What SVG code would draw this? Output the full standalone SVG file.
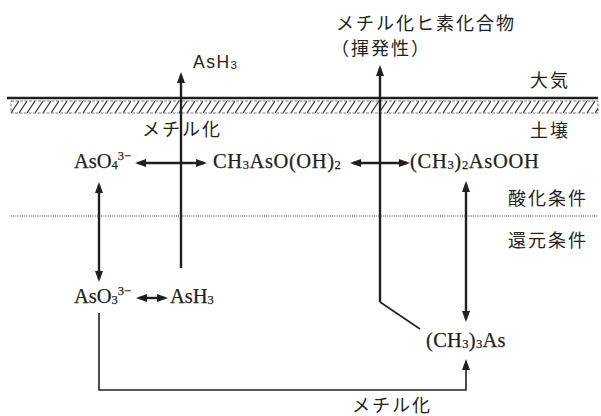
<svg xmlns="http://www.w3.org/2000/svg" width="601" height="416" viewBox="0 0 601 416">
<style>
.jp{font-family:"Noto Sans CJK JP","Noto Sans",sans-serif;font-size:18px;letter-spacing:2px;fill:#231f20}
.chem{font-family:"Liberation Serif","DejaVu Serif",serif;font-size:20.5px;fill:#231f20;stroke:#231f20;stroke-width:0.25}
.sub{font-size:12.5px}
.ln{stroke:#231f20;stroke-width:2.4;fill:none}
.thin{stroke:#231f20;stroke-width:1.6;fill:none}
</style>
<defs>
<marker id="ah" viewBox="-8 -4 11 8" refX="0" refY="0" markerWidth="11" markerHeight="8" markerUnits="userSpaceOnUse" orient="auto-start-reverse">
<path d="M-8,-4 L3,0 L-8,4 z" fill="#231f20"/>
</marker>
<pattern id="hatch" patternUnits="userSpaceOnUse" x="11" y="101" width="8" height="12">
<path d="M0,12 L8,0" stroke="#333" stroke-width="1.2"/>
</pattern>
</defs>
<g id="ground">
<rect x="11" y="101" width="587" height="12" fill="url(#hatch)" stroke="#555" stroke-width="0.8" stroke-dasharray="3 1.5"/>
<line x1="7" y1="98" x2="598" y2="98" stroke="#231f20" stroke-width="2.4"/>
<line x1="11" y1="216" x2="598" y2="216" stroke="#444" stroke-width="1" stroke-dasharray="1 1.2"/>
</g>
<g id="zones">
<text class="jp" x="530" y="87">大気</text>
<text class="jp" x="530" y="137">土壌</text>
<text class="jp" x="508" y="205">酸化条件</text>
<text class="jp" x="508" y="247">還元条件</text>
</g>
<g id="connectors">
<line class="ln" x1="181" y1="268" x2="181" y2="75" marker-end="url(#ah)"/>
<line class="ln" x1="380" y1="302" x2="380" y2="68" marker-end="url(#ah)"/>
<line class="thin" x1="380" y1="302" x2="420" y2="329"/>
<line class="ln" x1="99" y1="185" x2="99" y2="279" marker-start="url(#ah)" marker-end="url(#ah)"/>
<line class="ln" x1="466" y1="184" x2="466" y2="319" marker-start="url(#ah)" marker-end="url(#ah)"/>
<path class="thin" d="M99,313 L99,390 L466,390 L466,362" marker-end="url(#ah)"/>
<line class="ln" x1="138" y1="163" x2="204" y2="163" marker-start="url(#ah)" marker-end="url(#ah)"/>
<line class="ln" x1="353" y1="163" x2="407" y2="163" marker-start="url(#ah)" marker-end="url(#ah)"/>
<line class="ln" x1="139" y1="298" x2="165" y2="298" marker-start="url(#ah)" marker-end="url(#ah)"/>
</g>
<g id="labels">
<text class="jp" x="142" y="136">メチル化</text>
<text class="jp" x="352" y="412">メチル化</text>
<text class="jp" x="336" y="30">メチル化ヒ素化合物</text>
<text class="jp" x="331" y="55">（揮発性）</text>
</g>
<g id="n-ash3-air">
<text x="193" y="68" font-family="Liberation Sans, Arial, sans-serif" font-size="17.5" letter-spacing="1.5" fill="#231f20">AsH<tspan font-size="11.5" dy="1">3</tspan></text>
</g>
<g id="n-aso4">
<text class="chem" x="74" y="168">AsO<tspan class="sub" dy="1">4</tspan><tspan class="sub" dy="-9">3−</tspan></text>
</g>
<g id="n-mma">
<text class="chem" x="213" y="168" letter-spacing="0.6">CH<tspan class="sub" dy="1">3</tspan><tspan dy="-1">AsO(OH)</tspan><tspan class="sub" dy="1">2</tspan></text>
</g>
<g id="n-dma">
<text class="chem" x="410" y="168" letter-spacing="0.7">(CH<tspan class="sub" dy="1">3</tspan><tspan dy="-1">)</tspan><tspan class="sub" dy="1">2</tspan><tspan dy="-1">AsOOH</tspan></text>
</g>
<g id="n-aso3">
<text class="chem" x="74" y="303">AsO<tspan class="sub" dy="1">3</tspan><tspan class="sub" dy="-9">3−</tspan></text>
</g>
<g id="n-ash3">
<text class="chem" x="170" y="303">AsH<tspan class="sub" dy="1">3</tspan></text>
</g>
<g id="n-tma">
<text class="chem" x="426" y="347" letter-spacing="0.3">(CH<tspan class="sub" dy="1">3</tspan><tspan dy="-1">)</tspan><tspan class="sub" dy="1">3</tspan><tspan dy="-1">As</tspan></text>
</g>
</svg>
